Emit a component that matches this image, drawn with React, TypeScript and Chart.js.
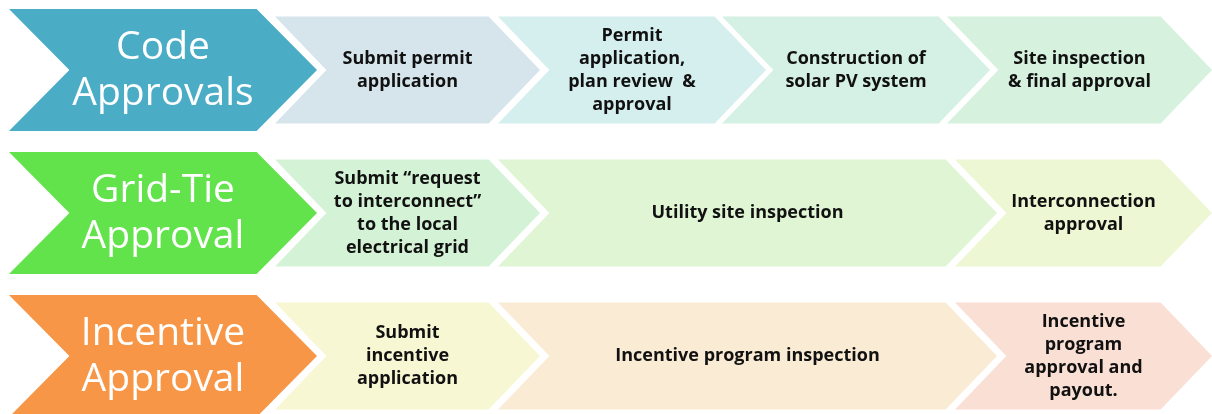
import React, { useEffect, useRef } from 'react';
import { Chart, registerables } from 'chart.js';

Chart.register(...registerables);

// Rows (phases)
const rowIndex = [0, 1, 2];
const headerLines = [
  ['Code', 'Approvals'],
  ['Grid-Tie', 'Approval'],
  ['Incentive', 'Approval'],
];
const headerStart = [9, 9, 9];
const headerEnd = [317, 317, 317];
const headerColors = ['#4BACC6', '#62E34B', '#F79646'];

// Steps within each phase
const stepRow = [0, 0, 0, 0, 1, 1, 1, 2, 2, 2];
const stepStart = [275, 498, 722, 947, 275, 498, 955, 275, 498, 955];
const stepEnd = [540, 766, 990, 1212, 540, 997, 1212, 540, 997, 1212];
const stepLines = [
  ['Submit permit', 'application'],
  ['Permit', 'application,', 'plan review  &', 'approval'],
  ['Construction of', 'solar PV system'],
  ['Site inspection', '& final approval'],
  ['Submit \u201crequest', 'to interconnect\u201d', 'to the local', 'electrical grid'],
  ['Utility site inspection'],
  ['Interconnection', 'approval'],
  ['Submit', 'incentive', 'application'],
  ['Incentive program inspection'],
  ['Incentive', 'program', 'approval and', 'payout.'],
];
const stepColors = [
  '#D6E5EC', '#D5EFEE', '#D5F0E4', '#D6F1DD',
  '#D4F3D6', '#E0F5D4', '#EEF7D3',
  '#F8F7D4', '#FAEBD4', '#FADFD4',
];

const chevronPlugin = {
  id: 'chevrons',
  beforeDatasetDraw(chart: any, args: any) {
    const meta = args.meta;
    const ds: any = chart.data.datasets[args.index];
    const ctx = chart.ctx;
    meta.data.forEach((el: any, i: number) => {
      const { x, y, base, height } = el.getProps(['x', 'y', 'base', 'height'], true);
      const left = Math.min(x, base);
      const right = Math.max(x, base);
      const top = y - height / 2;
      const bottom = y + height / 2;
      const d = height * ds.tipRatio;
      ctx.save();
      ctx.beginPath();
      ctx.moveTo(left, top);
      ctx.lineTo(right - d, top);
      ctx.lineTo(right, y);
      ctx.lineTo(right - d, bottom);
      ctx.lineTo(left, bottom);
      ctx.lineTo(left + d, y);
      ctx.closePath();
      ctx.fillStyle = el.options.backgroundColor;
      ctx.fill();

      const lines: string[] = ds.lines[i];
      const cx = (left + right) / 2;
      ctx.fillStyle = ds.textColor;
      ctx.font = ds.font;
      ctx.textAlign = 'center';
      if (ds.big) {
        ctx.textBaseline = 'alphabetic';
        ctx.fillText(lines[0], cx, y - 11);
        ctx.fillText(lines[1], cx, y + 35);
      } else {
        ctx.textBaseline = 'middle';
        const lh = ds.lineHeight;
        lines.forEach((t, j) => {
          ctx.fillText(t, cx, y + (j - (lines.length - 1) / 2) * lh);
        });
      }
      ctx.restore();
    });
    return false;
  },
};

export default function App() {
  const ref = useRef<HTMLCanvasElement | null>(null);
  useEffect(() => {
    if (!ref.current) return;
    const chart = new Chart(ref.current, {
      type: 'bar',
      data: {
        datasets: [
          {
            label: 'Phases',
            data: rowIndex.map((r) => ({ x: [headerStart[r], headerEnd[r]], y: r })),
            backgroundColor: headerColors,
            barThickness: 122,
            grouped: false,
            lines: headerLines,
            tipRatio: 0.495,
            textColor: '#FFFFFF',
            font: '400 39px "Open Sans"',
            big: true,
          } as any,
          {
            label: 'Steps',
            data: stepRow.map((r, i) => ({ x: [stepStart[i], stepEnd[i]], y: r })),
            backgroundColor: stepColors,
            barThickness: 107,
            grouped: false,
            lines: stepLines,
            tipRatio: 0.48,
            textColor: '#111111',
            font: '700 18px "Open Sans"',
            lineHeight: 23,
            big: false,
          } as any,
        ],
      },
      options: {
        indexAxis: 'y',
        animation: false,
        responsive: false,
        maintainAspectRatio: false,
        layout: { padding: 0 },
        plugins: { legend: { display: false }, tooltip: { enabled: false } },
        scales: {
          x: { type: 'linear', min: 0, max: 1212, display: false, offset: false, grace: 0 },
          y: { type: 'linear', min: -0.49, max: 2.405, reverse: true, display: false, offset: false, grace: 0 },
        },
      } as any,
      plugins: [chevronPlugin],
    });
    return () => chart.destroy();
  }, []);
  return (
    <div style={{ position: 'fixed', left: 0, top: 0, width: 1212, height: 414, background: '#fff' }}>
      <canvas ref={ref} width={1212} height={414} style={{ width: 1212, height: 414, display: 'block' }} />
    </div>
  );
}
